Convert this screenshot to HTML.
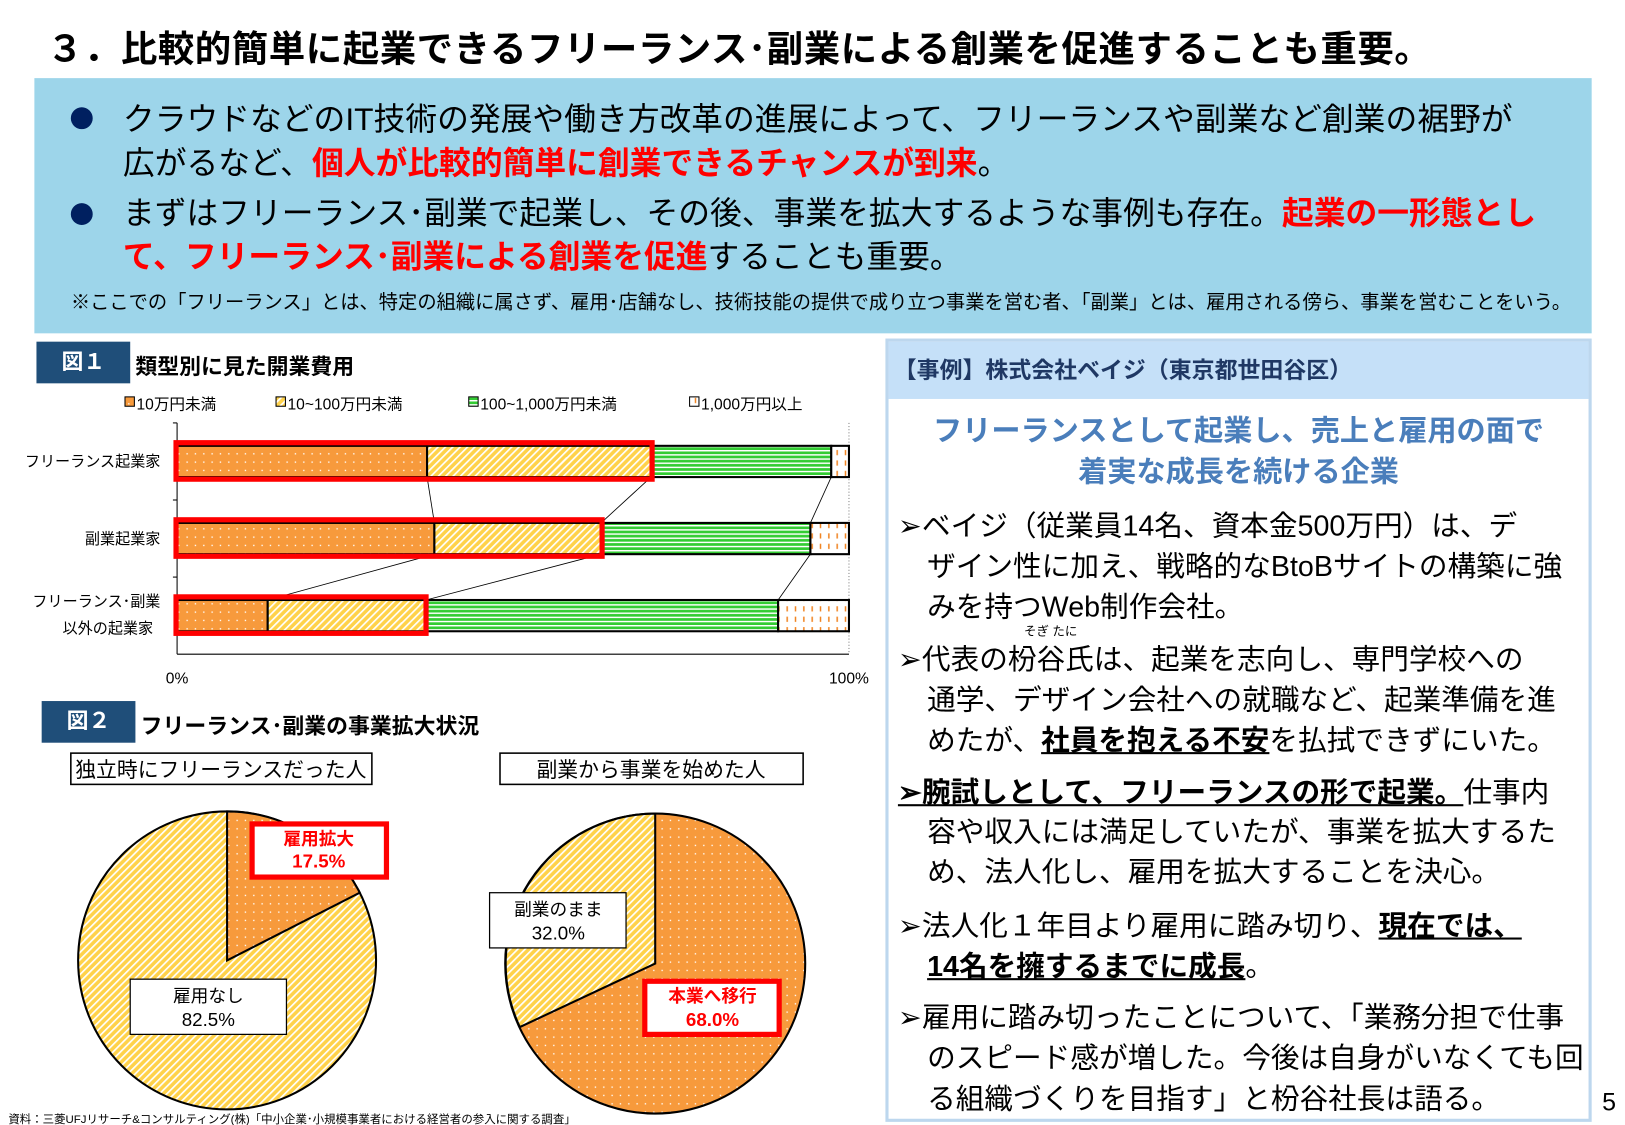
<!DOCTYPE html>
<html><head><meta charset="utf-8"><style>
html,body{margin:0;padding:0;width:1625px;height:1125px;overflow:hidden;background:#fff}
#w{position:absolute;left:0;top:0;width:1560px;height:1080px;transform:scale(1.04167);transform-origin:0 0;font-family:"Liberation Sans","Noto Sans CJK JP",sans-serif;color:#000}
.a{position:absolute;white-space:nowrap}
.b{font-weight:bold}
.r{color:#ff0000;font-weight:bold}
.u{text-decoration:underline;font-weight:bold}
.p{position:absolute;left:862px;font-size:27.5px;line-height:39px;white-space:nowrap;padding-left:28px;text-indent:-28px}
</style></head><body><div id="w">
<div class="a b" style="left:45px;top:19px;font-size:35px;letter-spacing:0.5px">３．比較的簡単に起業できるフリーランス･副業による創業を促進することも重要。</div>
<div class="a" style="left:33px;top:75px;width:1495px;height:245px;background:#9dd5ea"></div>
<div class="a" style="left:68px;top:103px;width:21px;height:21px;border-radius:50%;background:#002060"></div>
<div class="a" style="left:68px;top:195px;width:21px;height:21px;border-radius:50%;background:#002060"></div>
<div class="a" style="left:118px;top:94px;font-size:30.5px;line-height:42px">クラウドなどのIT技術の発展や働き方改革の進展によって、フリーランスや副業など創業の裾野が<br>広がるなど、<span class="r">個人が比較的簡単に創業できるチャンスが到来</span>。</div>
<div class="a" style="left:118px;top:184px;font-size:30.5px;line-height:42px">まずはフリーランス･副業で起業し、その後、事業を拡大するような事例も存在。<span class="r">起業の一形態とし</span><br><span class="r">て、フリーランス･副業による創業を促進</span>することも重要。</div>
<div class="a" style="left:68px;top:276px;font-size:18.5px">※ここでの「フリーランス」とは、特定の組織に属さず、雇用･店舗なし、技術技能の提供で成り立つ事業を営む者、「副業」とは、雇用される傍ら、事業を営むことをいう。</div>

<div class="a b" style="left:35px;top:328px;width:90px;height:40px;background:#1f4e79;color:#fff;font-size:21px;line-height:40px;text-align:center">図１</div>
<div class="a b" style="left:130px;top:336px;font-size:21px">類型別に見た開業費用</div>
<div class="a b" style="left:40px;top:673px;width:90px;height:40px;background:#1f4e79;color:#fff;font-size:21px;line-height:40px;text-align:center">図２</div>
<div class="a b" style="left:135px;top:681px;font-size:21px">フリーランス･副業の事業拡大状況</div>

<svg class="a" style="left:0;top:0" width="850" height="1080" viewBox="0 0 850 1080">
<defs>
<pattern id="po" width="8" height="8" patternUnits="userSpaceOnUse"><rect width="8" height="8" fill="#f79a3c"/><rect x="3" y="3" width="1.3" height="1.3" fill="#fff"/></pattern>
<pattern id="py" width="5" height="5" patternUnits="userSpaceOnUse" patternTransform="rotate(45)"><rect width="5" height="5" fill="#ffd24a"/><rect width="1.6" height="5" fill="#fff"/></pattern>
<pattern id="pg" width="4" height="4" patternUnits="userSpaceOnUse"><rect width="4" height="4" fill="#33cc33"/><rect width="4" height="1.4" fill="#fff"/></pattern>
<pattern id="pw" width="8" height="10" patternUnits="userSpaceOnUse"><rect width="8" height="10" fill="#fff"/><rect x="3" y="2" width="1.4" height="5" fill="#f0801a"/></pattern>
</defs>
<g font-size="15">
<rect x="120" y="381" width="9" height="9" fill="url(#po)" stroke="#000"/><text x="131" y="393">10万円未満</text>
<rect x="265" y="381" width="9" height="9" fill="url(#py)" stroke="#000"/><text x="276" y="393">10~100万円未満</text>
<rect x="450" y="381" width="9" height="9" fill="url(#pg)" stroke="#000"/><text x="461" y="393">100~1,000万円未満</text>
<rect x="662" y="381" width="9" height="9" fill="url(#pw)" stroke="#000"/><text x="673" y="393">1,000万円以上</text>
</g>
<line x1="170" y1="406" x2="170" y2="628" stroke="#000"/>
<line x1="170" y1="628" x2="815" y2="628" stroke="#000"/>
<line x1="815" y1="406" x2="815" y2="628" stroke="#888" stroke-dasharray="1 2"/>
<line x1="166" y1="406" x2="170" y2="406" stroke="#000"/><line x1="166" y1="480" x2="170" y2="480" stroke="#000"/><line x1="166" y1="554" x2="170" y2="554" stroke="#000"/>
<g stroke="#000" stroke-width="0.8">
<line x1="410" y1="458" x2="417" y2="502"/><line x1="625" y1="458" x2="577" y2="502"/><line x1="798" y1="458" x2="778" y2="502"/>
<line x1="417" y1="532" x2="257" y2="576"/><line x1="577" y1="532" x2="409" y2="576"/><line x1="778" y1="532" x2="747" y2="576"/>
</g>
<g stroke="#000" stroke-width="2">
<rect x="170" y="428" width="240" height="30" fill="url(#po)"/><rect x="410" y="428" width="215" height="30" fill="url(#py)"/><rect x="625" y="428" width="173" height="30" fill="url(#pg)"/><rect x="798" y="428" width="17" height="30" fill="url(#pw)"/>
<rect x="170" y="502" width="247" height="30" fill="url(#po)"/><rect x="417" y="502" width="160" height="30" fill="url(#py)"/><rect x="577" y="502" width="201" height="30" fill="url(#pg)"/><rect x="778" y="502" width="37" height="30" fill="url(#pw)"/>
<rect x="170" y="576" width="87" height="30" fill="url(#po)"/><rect x="257" y="576" width="152" height="30" fill="url(#py)"/><rect x="409" y="576" width="338" height="30" fill="url(#pg)"/><rect x="747" y="576" width="68" height="30" fill="url(#pw)"/>
</g>
<g fill="none" stroke="#ff0000" stroke-width="5">
<rect x="169" y="425" width="457" height="35"/><rect x="169" y="499" width="409" height="35"/><rect x="169" y="573" width="240" height="35"/>
</g>
<g font-size="14.5" text-anchor="end">
<text x="154" y="448">フリーランス起業家</text><text x="154" y="522">副業起業家</text>
<text x="154" y="582">フリーランス･副業</text><text x="147" y="608">以外の起業家</text>
</g>
<text x="170" y="656" font-size="15" text-anchor="middle">0%</text>
<text x="815" y="656" font-size="15" text-anchor="middle">100%</text>

<rect x="68" y="723" width="289" height="30" fill="#fff" stroke="#000" stroke-width="1.5"/>
<text x="212" y="746" font-size="20" text-anchor="middle">独立時にフリーランスだった人</text>
<rect x="480" y="723" width="291" height="30" fill="#fff" stroke="#000" stroke-width="1.5"/>
<text x="625" y="746" font-size="20" text-anchor="middle">副業から事業を始めた人</text>

<circle cx="218" cy="922" r="143" fill="url(#py)" stroke="#000" stroke-width="2"/>
<path d="M218,922 L218,779 A143,143 0 0 1 345.4,857 Z" fill="url(#po)" stroke="#000" stroke-width="2"/>
<circle cx="629" cy="925" r="144" fill="url(#po)" stroke="#000" stroke-width="2"/>
<path d="M629,925 L499,986 A144,144 0 0 1 629,781 Z" fill="url(#py)" stroke="#000" stroke-width="2"/>

<rect x="242" y="791" width="129" height="51" fill="#fff" stroke="#ff0000" stroke-width="5"/>
<text x="306" y="811" font-size="17" font-weight="bold" fill="#ff0000" text-anchor="middle">雇用拡大</text>
<text x="306" y="833" font-size="18" font-weight="bold" fill="#ff0000" text-anchor="middle">17.5%</text>
<rect x="125" y="940" width="150" height="53" fill="#fff" stroke="#000" stroke-width="1.2"/>
<text x="200" y="962" font-size="17" text-anchor="middle">雇用なし</text>
<text x="200" y="985" font-size="18" text-anchor="middle">82.5%</text>
<rect x="470" y="857" width="131" height="53" fill="#fff" stroke="#000" stroke-width="1.2"/>
<text x="536" y="879" font-size="17" text-anchor="middle">副業のまま</text>
<text x="536" y="902" font-size="18" text-anchor="middle">32.0%</text>
<rect x="619" y="942" width="129" height="51" fill="#fff" stroke="#ff0000" stroke-width="5"/>
<text x="684" y="962" font-size="17" font-weight="bold" fill="#ff0000" text-anchor="middle">本業へ移行</text>
<text x="684" y="985" font-size="18" font-weight="bold" fill="#ff0000" text-anchor="middle">68.0%</text>
<text x="8" y="1078" font-size="11">資料：三菱UFJリサーチ&amp;コンサルティング(株)「中小企業･小規模事業者における経営者の参入に関する調査」</text>
</svg>

<div class="a" style="left:850px;top:325px;width:672px;height:746px;border:3px solid #bdd7ee;background:#fff"></div>
<div class="a" style="left:853px;top:328px;width:672px;height:55px;background:#c5e0f8"></div>
<div class="a b" style="left:858px;top:338px;font-size:22px;color:#1f3864">【事例】株式会社ベイジ（東京都世田谷区）</div>
<div class="a b" style="left:853px;top:394px;width:672px;text-align:center;font-size:28px;line-height:39px;color:#4a7ebb">フリーランスとして起業し、売上と雇用の面で<br>着実な成長を続ける企業</div>
<div class="p" style="top:485px">➢ベイジ（従業員14名、資本金500万円）は、デ<br>ザイン性に加え、戦略的なBtoBサイトの構築に強<br>みを持つWeb制作会社。</div>
<div class="a" style="left:983px;top:597px;font-size:12px">そぎ たに</div>
<div class="p" style="top:613px">➢代表の枌谷氏は、起業を志向し、専門学校への<br>通学、デザイン会社への就職など、起業準備を進<br>めたが、<span class="u">社員を抱える不安</span>を払拭できずにいた。</div>
<div class="p" style="top:742px;line-height:38px"><span class="u">➢腕試しとして、フリーランスの形で起業。</span>仕事内<br>容や収入には満足していたが、事業を拡大するた<br>め、法人化し、雇用を拡大することを決心。</div>
<div class="p" style="top:869px">➢法人化１年目より雇用に踏み切り、<span class="u">現在では、</span><br><span class="u">14名を擁するまでに成長</span>。</div>
<div class="p" style="top:957px">➢雇用に踏み切ったことについて、「業務分担で仕事<br>のスピード感が増した。今後は自身がいなくても回<br>る組織づくりを目指す」と枌谷社長は語る。</div>
<div class="a" style="left:1538px;top:1045px;font-size:24px">5</div>
</div></body></html>
